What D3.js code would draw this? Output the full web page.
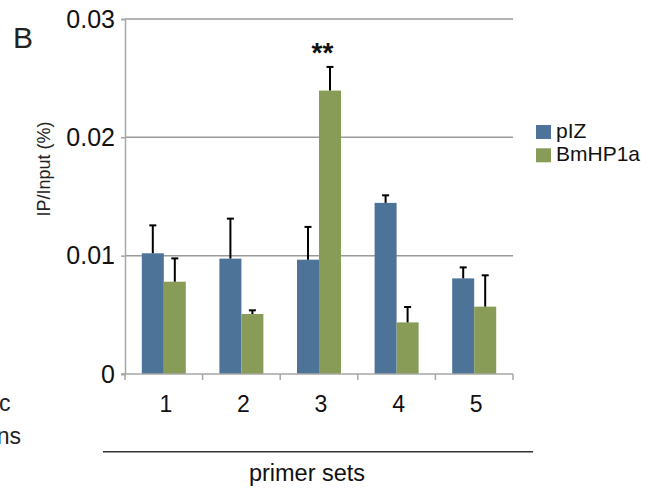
<!DOCTYPE html>
<html>
<head>
<meta charset="utf-8">
<script src="https://cdn.jsdelivr.net/npm/d3@7"></script>
<style>
  html, body { margin: 0; padding: 0; background: #fff; }
  svg { display: block; font-family: "Liberation Sans", Arial, Helvetica, sans-serif; }
</style>
</head>
<body>
<svg id="chart" width="661" height="489"></svg>
<script>
// ChIP-qPCR enrichment (IP/Input %) for each primer set
const categories = ["1", "2", "3", "4", "5"];
const seriesNames = ["pIZ", "BmHP1a"];
const pIZValues   = [0.0102, 0.00975, 0.00966, 0.01446, 0.00808];
const pIZErrors   = [0.00236, 0.00338, 0.00277, 0.00064, 0.00093];
const hp1aValues  = [0.0078, 0.00507, 0.02395, 0.00436, 0.00569];
const hp1aErrors  = [0.00197, 0.00031, 0.0020, 0.0013, 0.00265];
const yTicks = [0, 0.01, 0.02, 0.03];
const yTickLabels = ["0", "0.01", "0.02", "0.03"];
const significance = [{ category: "3", label: "**" }];

const colors = { "pIZ": "#4d7399", "BmHP1a": "#889b57" };
const values = { "pIZ": pIZValues, "BmHP1a": hp1aValues };
const errors = { "pIZ": pIZErrors, "BmHP1a": hp1aErrors };

const svg = d3.select("#chart");
const plot = { left: 125, right: 513, top: 19, bottom: 374 };
const axisGray = "#a6a6a6";

const x = d3.scaleBand().domain(categories).range([plot.left, plot.right]).paddingInner(0).paddingOuter(0);
const barW = 22;
const x1 = d3.scaleBand().domain(seriesNames)
  .range([x.bandwidth() / 2 - barW, x.bandwidth() / 2 + barW]);
const y = d3.scaleLinear().domain([0, 0.03]).range([plot.bottom, plot.top]);

// gridlines
svg.append("g").selectAll("line").data(yTicks.filter(d => d > 0)).join("line")
  .attr("x1", plot.left).attr("x2", plot.right)
  .attr("y1", d => y(d)).attr("y2", d => y(d))
  .attr("stroke", "#9a9a9a").attr("stroke-width", 1.5);

// y axis
const yAxis = d3.axisLeft(y).tickValues(yTicks).tickSize(4).tickPadding(6)
  .tickFormat((d, i) => yTickLabels[i]);
const gy = svg.append("g").attr("transform", `translate(${plot.left},0)`).call(yAxis);
gy.select(".domain").attr("stroke", axisGray).attr("stroke-width", 1.5);
gy.selectAll(".tick line").attr("stroke", axisGray).attr("stroke-width", 1.5);
gy.selectAll(".tick text").attr("font-size", 25).attr("fill", "#111")
  .attr("font-family", "Liberation Sans, Arial, sans-serif");

// bars
const groups = svg.append("g").selectAll("g").data(categories).join("g")
  .attr("transform", d => `translate(${x(d)},0)`);
seriesNames.forEach(s => {
  groups.append("rect")
    .attr("x", x1(s))
    .attr("width", x1.bandwidth())
    .attr("y", (d, i) => y(values[s][i]))
    .attr("height", (d, i) => y(0) - y(values[s][i]))
    .attr("fill", colors[s]);
});

// error bars (upper only)
seriesNames.forEach(s => {
  const eb = groups.append("g").attr("transform", `translate(${x1(s) + x1.bandwidth() / 2},0)`);
  eb.append("line")
    .attr("x1", 0).attr("x2", 0)
    .attr("y1", (d, i) => y(values[s][i]))
    .attr("y2", (d, i) => y(values[s][i] + errors[s][i]))
    .attr("stroke", "#000").attr("stroke-width", 2);
  eb.append("line")
    .attr("x1", -3.5).attr("x2", 3.5)
    .attr("y1", (d, i) => y(values[s][i] + errors[s][i]))
    .attr("y2", (d, i) => y(values[s][i] + errors[s][i]))
    .attr("stroke", "#000").attr("stroke-width", 2);
});

// x axis with category-boundary ticks
const gx = svg.append("g");
gx.append("line").attr("x1", plot.left - 4).attr("x2", plot.right)
  .attr("y1", y(0)).attr("y2", y(0)).attr("stroke", axisGray).attr("stroke-width", 1.5);
const bounds = categories.map(c => x(c)).concat([x.range()[1]]);
gx.selectAll("line.b").data(bounds).join("line").attr("class", "b")
  .attr("x1", d => d).attr("x2", d => d)
  .attr("y1", y(0)).attr("y2", y(0) + 6)
  .attr("stroke", axisGray).attr("stroke-width", 1.5);
gx.selectAll("text").data(categories).join("text")
  .attr("x", d => x(d) + x.bandwidth() / 2 + 2)
  .attr("y", y(0) + 38)
  .attr("text-anchor", "middle")
  .attr("font-size", 23).attr("fill", "#111")
  .text(d => d);

// significance marks
svg.selectAll("text.sig").data(significance).join("text").attr("class", "sig")
  .attr("x", d => x(d.category) + x.bandwidth() / 2 + 3.5)
  .attr("y", d => y(hp1aValues[categories.indexOf(d.category)] + hp1aErrors[categories.indexOf(d.category)]) - 5)
  .attr("text-anchor", "middle").attr("font-size", 28).attr("font-weight", "bold").attr("fill", "#111")
  .text(d => d.label);

// y axis title
svg.append("text")
  .attr("transform", `translate(50,169) rotate(-90)`)
  .attr("text-anchor", "middle").attr("font-size", 18).attr("fill", "#222")
  .text("IP/Input (%)");

// panel letter
svg.append("text").attr("x", 13).attr("y", 48).attr("font-size", 30).attr("fill", "#222").text("B");

// bracket line and x title
svg.append("line").attr("x1", 103).attr("x2", 533).attr("y1", 451.7).attr("y2", 451.7)
  .attr("stroke", "#333").attr("stroke-width", 1.5);
svg.append("text").attr("x", 307).attr("y", 481).attr("text-anchor", "middle")
  .attr("font-size", 23.5).attr("fill", "#111").text("primer sets");

// legend
const legend = svg.append("g").selectAll("g").data(seriesNames).join("g")
  .attr("transform", (d, i) => `translate(536,${125 + i * 23.3})`);
legend.append("rect").attr("width", 15).attr("height", 14).attr("fill", d => colors[d]);
legend.append("text").attr("x", 20).attr("y", 13).attr("font-size", 21).attr("fill", "#111").text(d => d);

// neighbouring panel text fragments at the left edge
svg.append("text").attr("x", 10.5).attr("y", 411).attr("text-anchor", "end")
  .attr("font-size", 23).attr("fill", "#222").text("c");
svg.append("text").attr("x", 21).attr("y", 444).attr("text-anchor", "end")
  .attr("font-size", 23).attr("fill", "#222").text("ns");
</script>
</body>
</html>
